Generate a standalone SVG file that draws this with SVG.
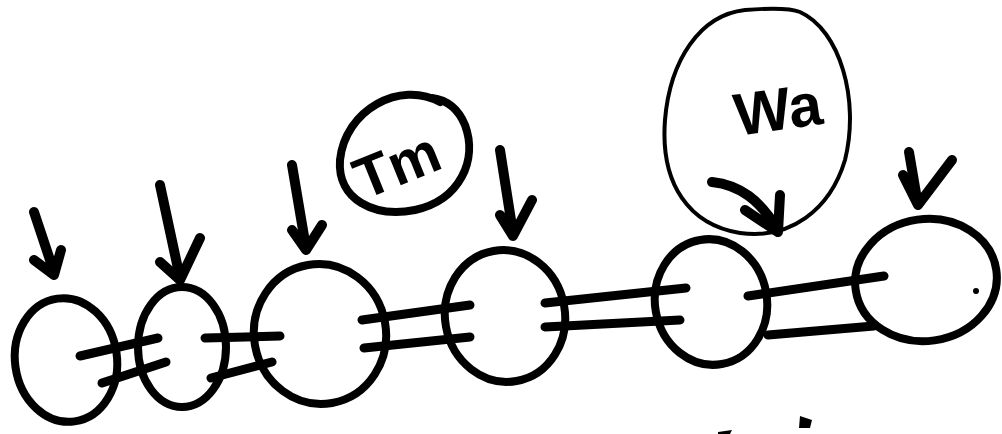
<svg xmlns="http://www.w3.org/2000/svg" width="1002" height="434" viewBox="0 0 1002 434">
<style>
.n{fill:none;stroke:#000;stroke-width:8;stroke-linecap:round}
.thin{fill:none;stroke:#000;stroke-width:4}
.c{fill:none;stroke:#000;stroke-width:9;stroke-linecap:round}
.a{fill:none;stroke:#000;stroke-width:10;stroke-linecap:round;stroke-linejoin:round}
.t{font-family:"Liberation Sans",Arial,sans-serif;font-weight:bold;fill:#000}
</style>
<rect width="1002" height="434" fill="#fff"/>
<g id="connectors">
<line class="c" x1="80" y1="356" x2="158" y2="338"/>
<line class="c" x1="102" y1="383" x2="166" y2="362"/>
<line class="c" x1="205" y1="338" x2="280" y2="336"/>
<line class="c" x1="211" y1="378" x2="272" y2="362"/>
<line class="c" x1="362" y1="320" x2="470" y2="305"/>
<line class="c" x1="364" y1="348" x2="470" y2="337"/>
<line class="c" x1="545" y1="303" x2="686" y2="288"/>
<line class="c" x1="545" y1="327" x2="680" y2="320"/>
<line class="c" x1="748" y1="296" x2="884" y2="276"/>
<line class="c" x1="768" y1="335" x2="874" y2="326"/>
</g>
<g id="node1"><ellipse class="n" cx="66" cy="360" rx="51" ry="62" transform="rotate(-8 66 360)"/></g>
<g id="node2"><ellipse class="n" cx="182" cy="347" rx="44" ry="60"/></g>
<g id="node3"><ellipse class="n" cx="320" cy="334" rx="66" ry="70" transform="rotate(-10 320 334)"/></g>
<g id="node4"><ellipse class="n" cx="505" cy="316" rx="60" ry="66" transform="rotate(-10 505 316)"/></g>
<g id="node5"><ellipse class="n" cx="711" cy="302" rx="56" ry="63" transform="rotate(-10 711 302)"/></g>
<g id="node6"><ellipse class="n" cx="926" cy="280" rx="71" ry="61" transform="rotate(-8 926 280)"/><circle cx="976" cy="291" r="3"/></g>
<g id="tm">
<path class="n" d="M 440 102 C 400 80 345 110 340 160 C 337 200 375 218 415 210 C 460 200 478 160 465 125 C 458 108 447 100 432 98"/>
<text class="t" x="398" y="185" font-size="58" text-anchor="middle" transform="rotate(-22 398 168)">Tm</text>
</g>
<g id="wa">
<path class="thin" d="M 800 12 C 840 30 860 100 845 160 C 830 210 790 240 740 233 C 690 225 660 185 665 120 C 670 60 700 15 745 10 C 770 8 790 8 800 12"/>
<text class="t" x="778" y="130" font-size="60" text-anchor="middle" transform="rotate(-8 778 110)">Wa</text>
</g>
<g id="arrows">
<path class="a" d="M 34 212 L 54 272 M 34 260 L 54 275 L 61 250"/>
<path class="a" d="M 160 185 L 180 278 M 160 262 L 180 280 L 200 238"/>
<path class="a" d="M 292 165 L 306 248 M 292 230 L 306 250 L 322 225"/>
<path class="a" d="M 500 150 L 513 233 M 500 215 L 513 236 L 532 200"/>
<path class="a" d="M 712 182 C 740 185 760 200 778 230 M 745 210 L 778 232 L 780 195"/>
<path class="a" d="M 909 152 L 918 205 M 903 175 L 918 205 L 952 160"/>
</g>
<g id="marks">
<path d="M 800 416 L 812 420 L 810 428 L 799 428 Z" fill="#000"/>
<path d="M 718 432 L 732 430 L 730 434 L 718 434 Z" fill="#000"/>
</g>
</svg>
